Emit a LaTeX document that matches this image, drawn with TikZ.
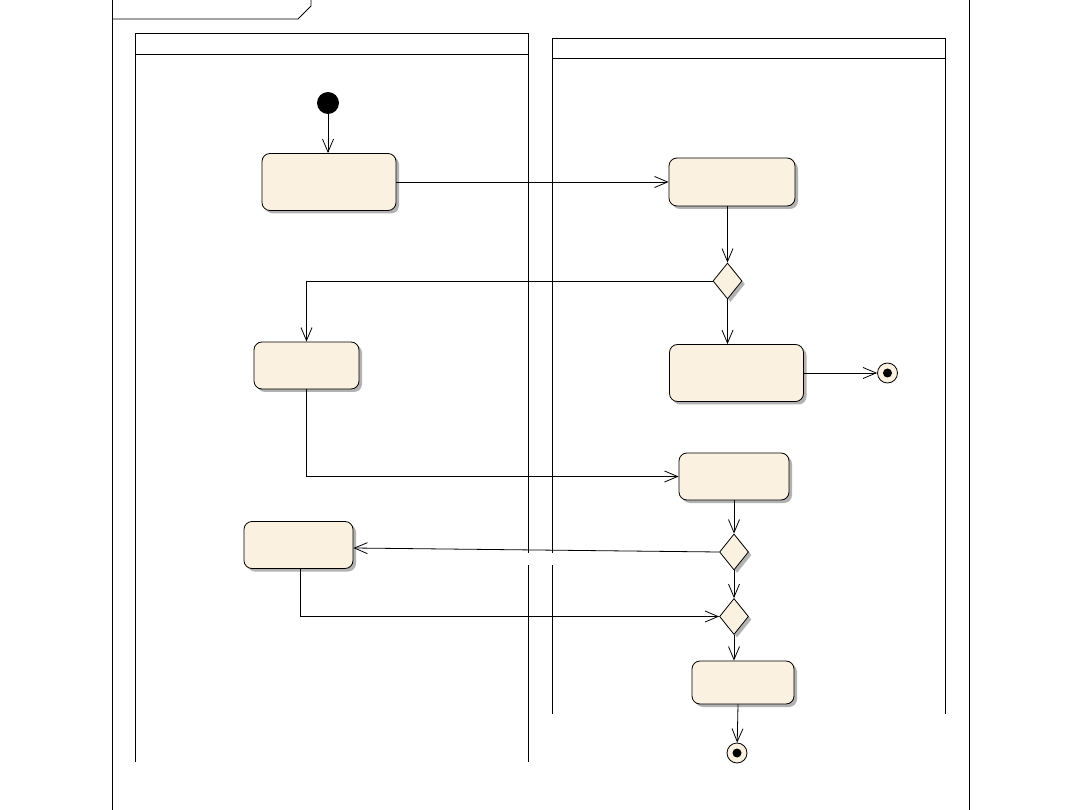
\documentclass[tikz,border=0pt]{standalone}
\usetikzlibrary{shapes.geometric,arrows.meta,shadows,calc}
\definecolor{cream}{HTML}{FBF1E1}
\begin{document}
\begin{tikzpicture}[x=1pt,y=-1pt,
  every path/.style={line width=0.8pt},
  act/.style={draw, rounded corners=8pt, fill=cream, inner sep=0pt,
    drop shadow={shadow xshift=3pt, shadow yshift=-3pt, fill=black!30, opacity=1}},
  dec/.style={draw, diamond, fill=cream, inner sep=0pt, minimum width=29pt, minimum height=36pt,
    drop shadow={shadow xshift=3pt, shadow yshift=-3pt, fill=black!30, opacity=1}},
  flow/.style={draw, -{Straight Barb[length=13pt,width=11pt,line width=0.8pt]}},
  lane/.style={draw, line width=0.8pt}]
\useasboundingbox (0,0) rectangle (1080,810);
% outer frame
\draw[lane] (112,0) -- (112,810);
\draw[lane] (969,0) -- (969,810);
\draw[lane] (112,19) -- (298,19) -- (311,6) -- (311,0);
% left lane
\draw[lane] (135,762) -- (135,33) -- (528,33) -- (528,553);
\draw[lane] (528,565) -- (528,762);
\draw[lane] (135,54) -- (528,54);
% right lane
\draw[lane] (552,553) -- (552,38) -- (945,38) -- (945,714);
\draw[lane] (552,565) -- (552,714);
\draw[lane] (552,58) -- (945,58);
% nodes
\node[circle, fill=black, minimum size=22pt, inner sep=0pt] (init) at (328,103) {};
\node[act, minimum width=134pt, minimum height=57pt] (a1) at (329,182) {};
\node[act, minimum width=126pt, minimum height=48pt] (a2) at (732,182) {};
\node[dec] (d1) at (727.5,281) {};
\node[act, minimum width=105pt, minimum height=47pt] (a3) at (306.5,365.5) {};
\node[act, minimum width=134pt, minimum height=57pt] (a4) at (736.5,373) {};
\node[circle, draw, fill=cream, minimum size=20pt, inner sep=0pt] (f1) at (887.5,373) {};
\node[circle, fill=black, minimum size=9pt, inner sep=0pt] (f1dot) at (f1) {};
\node[act, minimum width=110pt, minimum height=47pt] (a5) at (734,476.5) {};
\node[dec] (d2) at (734,552) {};
\node[act, minimum width=109pt, minimum height=47pt] (a6) at (298.5,545) {};
\node[dec] (d3) at (734,616.5) {};
\node[act, minimum width=102pt, minimum height=43pt] (a7) at (743,682.5) {};
\node[circle, draw, fill=cream, minimum size=20pt, inner sep=0pt] (f2) at (737,753) {};
\node[circle, fill=black, minimum size=9pt, inner sep=0pt] (f2dot) at (f2) {};
% flows
\draw[flow] (init) -- (init |- a1.north);
\draw[flow] (a1.east) -- (a2.west);
\draw[flow] (a2.south -| d1) -- (d1.north);
\draw[flow] (d1.west) -| (a3.north);
\draw[flow] (d1.south) -- (d1.south |- a4.north);
\draw[flow] (a4.east) -- (f1);
\draw[flow] (a3.south) |- (a5.west);
\draw[flow] (a5.south -| d2) -- (d2.north);
\draw[flow] (d2.west) -- ($(a6.east)+(0,3)$);
\draw[flow] (d2.south) -- (d3.north);
\draw[flow] ($(a6.south)+(1.5,0)$) |- (d3.west);
\draw[flow] (d3.south) -- (d3.south |- a7.north);
\draw[flow] ($(a7.south)+(-5,0)$) -- (f2);
\end{tikzpicture}
\end{document}
